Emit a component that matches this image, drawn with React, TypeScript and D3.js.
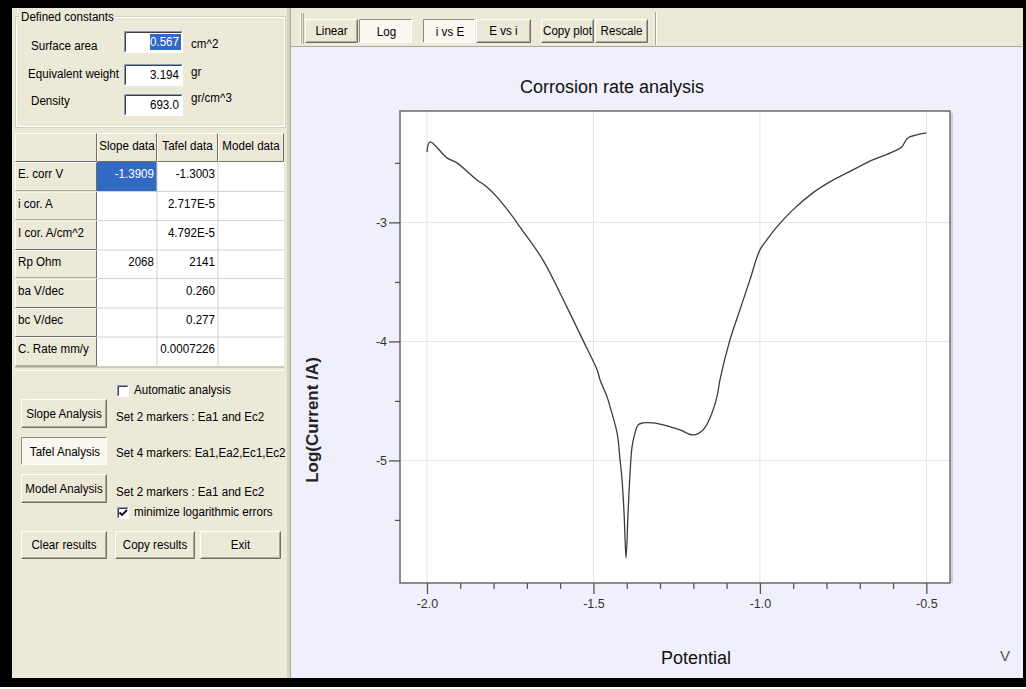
import { useEffect, useRef } from 'react'
import * as d3 from 'd3'

// polarisation curve
const potential = [-2.0, -1.991, -1.94, -1.91, -1.85, -1.82, -1.79, -1.742, -1.721, -1.652, -1.58, -1.532, -1.489, -1.48, -1.459, -1.45, -1.429, -1.42, -1.414, -1.408, -1.402, -1.396, -1.39, -1.384, -1.375, -1.366, -1.351, -1.321, -1.279, -1.24, -1.201, -1.171, -1.15, -1.129, -1.12, -1.09, -1.06, -1.03, -1.0, -0.979, -0.949, -0.901, -0.841, -0.79, -0.721, -0.661, -0.601, -0.574, -0.556, -0.529, -0.5]
const logCurrent = [-2.408, -2.324, -2.458, -2.5, -2.643, -2.702, -2.786, -2.954, -3.038, -3.315, -3.71, -3.987, -4.239, -4.324, -4.466, -4.55, -4.769, -4.996, -5.164, -5.441, -5.819, -5.441, -5.105, -4.886, -4.769, -4.701, -4.685, -4.685, -4.71, -4.744, -4.786, -4.744, -4.643, -4.466, -4.324, -3.987, -3.735, -3.483, -3.231, -3.147, -3.038, -2.895, -2.752, -2.66, -2.559, -2.475, -2.408, -2.366, -2.29, -2.265, -2.248]

const xMajorTicks = [-2.0, -1.5, -1.0, -0.5]
const xMinorTicks = [-1.9, -1.8, -1.7, -1.6, -1.4, -1.3, -1.2, -1.1, -0.9, -0.8, -0.7, -0.6]
const yMajorTicks = [-5, -4, -3]
const yMinorTicks = [-5.5, -4.5, -3.5, -2.5]

const constantLabels = ['Surface area', 'Equivalent weight', 'Density']
const constantValues = ['0.567', '3.194', '693.0']
const constantUnits = ['cm^2', 'gr', 'gr/cm^3']

const tableColumns = ['Slope data', 'Tafel data', 'Model data']
const rowLabels = ['E. corr V', 'i cor.  A', 'I cor. A/cm^2', 'Rp  Ohm', 'ba V/dec', 'bc V/dec', 'C. Rate mm/y']
const slopeData = ['-1.3909', '', '', '2068', '', '', '']
const tafelData = ['-1.3003', '2.717E-5', '4.792E-5', '2141', '0.260', '0.277', '0.0007226']
const modelData = ['', '', '', '', '', '', '']

const toolbarButtons = ['Linear', 'Log', 'i vs E', 'E vs i', 'Copy plot', 'Rescale']
const toolbarPressed = [false, true, true, false, false, false]

const BEIGE = '#ECE9D8'
const LAVENDER = '#F0F0FC'
const UI_FONT = 'Liberation Sans, Arial, sans-serif'

const plot = { left: 400, right: 950, top: 111, bottom: 583 }

function Txt({ x, y, children, anchor = 'start', size = 13.5, fill = '#000' }: any) {
  return (
    <text
      transform={`translate(${x},${y}) scale(0.86,1)`}
      textAnchor={anchor}
      dominantBaseline="central"
      fontSize={size}
      fontFamily={UI_FONT}
      fill={fill}
    >
      {children}
    </text>
  )
}

function Btn({ x, y, w, h, label, pressed = false }: any) {
  const r = x + w, b = y + h
  return (
    <g>
      <rect x={x} y={y} width={w} height={h} fill={pressed ? '#F8F7F0' : BEIGE} />
      <path d={`M${x + 0.5},${b - 0.5}V${y + 0.5}H${r - 0.5}`} stroke={pressed ? '#8E8B7E' : '#fff'} fill="none" />
      <path d={`M${x + 0.5},${b - 0.5}H${r - 0.5}V${y + 0.5}`} stroke={pressed ? '#fff' : '#716F64'} fill="none" />
      {!pressed && <path d={`M${x + 1.5},${b - 1.5}H${r - 1.5}V${y + 1.5}`} stroke="#ACA899" fill="none" />}
      <Txt x={x + w / 2 + (pressed ? 1 : 0)} y={y + h / 2 + (pressed ? 1 : 0)} anchor="middle">{label}</Txt>
    </g>
  )
}

function Sunken({ x, y, w, h, fill = '#fff' }: any) {
  return (
    <g>
      <rect x={x} y={y} width={w} height={h} fill={fill} />
      <path d={`M${x + 0.5},${y + h - 0.5}V${y + 0.5}H${x + w - 0.5}`} stroke="#7F9DB9" fill="none" />
      <path d={`M${x + 1.5},${y + h - 1.5}V${y + 1.5}H${x + w - 1.5}`} stroke="#404040" fill="none" />
      <path d={`M${x + 0.5},${y + h - 0.5}H${x + w - 0.5}V${y + 0.5}`} stroke="#fff" fill="none" />
    </g>
  )
}

function LeftPanel() {
  const colX = [15, 97, 157, 218, 284]
  const headTop = 133
  const rowTop = [162, 191.5, 220.5, 250, 278.5, 308, 337, 366.5]
  const cols = [slopeData, tafelData, modelData]
  const inputTop = [31, 64, 94]
  const labelY = [46, 74, 101]
  const unitY = [44, 72, 98]

  return (
    <g>
      <rect x={12} y={8} width={275} height={670} fill={BEIGE} />
      {/* group box */}
      <rect x={15.5} y={16.5} width={270} height={111} fill="none" stroke="#D0D0BF" />
      <rect x={16.5} y={17.5} width={268} height={109} fill="none" stroke="#fff" />
      <rect x={19} y={10} width={95} height={14} fill={BEIGE} />
      <Txt x={21} y={17}>Defined constants</Txt>
      {constantLabels.map((l, i) => (
        <g key={l}>
          <Txt x={i === 1 ? 28 : 31} y={labelY[i]}>{l}</Txt>
          <Sunken x={124} y={inputTop[i]} w={59} h={22} />
          {i === 0 && <rect x={150} y={inputTop[i] + 3} width={31} height={16} fill="#316AC5" />}
          <Txt x={179} y={inputTop[i] + 11} anchor="end" fill={i === 0 ? '#fff' : '#000'}>{constantValues[i]}</Txt>
          <Txt x={191} y={unitY[i]}>{constantUnits[i]}</Txt>
        </g>
      ))}

      {/* results grid */}
      <rect x={colX[1]} y={rowTop[0]} width={colX[4] - colX[1]} height={rowTop[7] - rowTop[0]} fill="#fff" />
      <rect x={colX[1]} y={rowTop[0]} width={colX[2] - colX[1]} height={rowTop[1] - rowTop[0]} fill="#316AC5" />
      {rowTop.slice(1, 7).map((t, i) => (
        <line key={i} x1={colX[1]} x2={colX[4]} y1={t} y2={t} stroke="#D4D0C8" />
      ))}
      {colX.slice(2, 4).map((c, i) => (
        <line key={i} x1={c} x2={c} y1={rowTop[0]} y2={rowTop[7]} stroke="#D4D0C8" />
      ))}
      {/* header cells */}
      {[0, 1, 2, 3].map(c => (
        <g key={c}>
          <rect x={colX[c]} y={headTop} width={colX[c + 1] - colX[c]} height={rowTop[0] - headTop} fill={BEIGE} />
          <path d={`M${colX[c] + 0.5},${rowTop[0] - 0.5}V${headTop + 0.5}H${colX[c + 1] - 0.5}`} stroke="#fff" fill="none" />
          <path d={`M${colX[c] + 0.5},${rowTop[0] - 0.5}H${colX[c + 1] - 0.5}V${headTop + 0.5}`} stroke="#716F64" fill="none" />
          {c > 0 && <Txt x={(colX[c] + colX[c + 1]) / 2} y={headTop + 13} anchor="middle">{tableColumns[c - 1]}</Txt>}
        </g>
      ))}
      {rowLabels.map((l, i) => (
        <g key={l}>
          <rect x={colX[0]} y={rowTop[i]} width={colX[1] - colX[0]} height={rowTop[i + 1] - rowTop[i]} fill={BEIGE} />
          <path d={`M${colX[0] + 0.5},${rowTop[i + 1] - 0.5}V${rowTop[i] + 0.5}H${colX[1] - 0.5}`} stroke="#fff" fill="none" />
          <path d={`M${colX[0] + 0.5},${rowTop[i + 1] - 0.5}H${colX[1] - 0.5}V${rowTop[i] + 0.5}`} stroke="#716F64" fill="none" />
          <Txt x={18} y={rowTop[i] + 12}>{l}</Txt>
          {cols.map((col, c) => (
            <Txt key={c} x={colX[c + 2] - 3} y={rowTop[i] + 12} anchor="end" fill={i === 0 && c === 0 ? '#fff' : '#000'}>
              {col[i]}
            </Txt>
          ))}
        </g>
      ))}
      <line x1={colX[0]} x2={colX[4]} y1={rowTop[7] + 0.5} y2={rowTop[7] + 0.5} stroke="#ACA899" />
      <line x1={colX[0]} x2={colX[4]} y1={370.5} y2={370.5} stroke="#fff" />

      {/* analysis controls */}
      <Sunken x={117} y={385} w={12} h={12} />
      <Txt x={134} y={390}>Automatic analysis</Txt>
      <Btn x={21} y={399} w={86} h={29} label="Slope Analysis" />
      <Txt x={116} y={417}>Set 2 markers : Ea1 and Ec2</Txt>
      <Btn x={21} y={437} w={86} h={28} label="Tafel Analysis" pressed />
      <Txt x={116} y={453}>Set 4 markers: Ea1,Ea2,Ec1,Ec2</Txt>
      <Btn x={21} y={474} w={86} h={29} label="Model Analysis" />
      <Txt x={116} y={492}>Set 2 markers : Ea1 and Ec2</Txt>
      <Sunken x={117} y={507} w={12} h={12} />
      <path d="M119.5,512.5l2.5,2.5l5,-5" stroke="#000" strokeWidth={1.8} fill="none" />
      <Txt x={134} y={512}>minimize logarithmic errors</Txt>
      <Btn x={21} y={531} w={86} h={28} label="Clear results" />
      <Btn x={115} y={531} w={80} h={28} label="Copy results" />
      <Btn x={200} y={531} w={81} h={28} label="Exit" />
    </g>
  )
}

function Toolbar() {
  const bx = [305, 359, 423, 476, 541, 595]
  const bw = [53, 53, 52, 55, 53, 53]
  return (
    <g>
      <rect x={291} y={8} width={732} height={39} fill={BEIGE} />
      <line x1={291} x2={1023} y1={46.5} y2={46.5} stroke="#ACA899" />
      <line x1={300.5} x2={300.5} y1={13} y2={44} stroke="#fff" />
      <line x1={301.5} x2={301.5} y1={13} y2={44} stroke="#ACA899" />
      <line x1={303.5} x2={303.5} y1={13} y2={44} stroke="#ACA899" />
      <line x1={655.5} x2={655.5} y1={12} y2={45} stroke="#ACA899" />
      <line x1={656.5} x2={656.5} y1={12} y2={45} stroke="#fff" />
      {toolbarButtons.map((l, i) => (
        <Btn key={l} x={bx[i]} y={19} w={bw[i]} h={24} label={l} pressed={toolbarPressed[i]} />
      ))}
    </g>
  )
}

export default function App() {
  const axRef = useRef<SVGGElement | null>(null)

  const x = d3.scaleLinear().domain([-2.081, -0.429]).range([plot.left, plot.right])
  const y = d3.scaleLinear().domain([-6.03, -2.064]).range([plot.bottom, plot.top])

  const points = potential.map((p, i) => [p, logCurrent[i]] as [number, number])
  const line = d3.line<[number, number]>()
    .x(d => x(d[0]))
    .y(d => y(d[1]))
    .curve(d3.curveCatmullRom.alpha(0.5))

  useEffect(() => {
    if (!axRef.current) return
    const g = d3.select(axRef.current)
    g.selectAll('*').remove()

    const styleAxis = (sel: any) => {
      sel.select('.domain').remove()
      sel.selectAll('line').attr('stroke', '#555').attr('stroke-width', 1.3)
      sel.selectAll('text')
        .attr('fill', '#333')
        .style('font-size', '12.5px')
        .style('font-family', 'Liberation Sans, Arial, sans-serif')
    }

    g.append('g')
      .attr('transform', `translate(0,${plot.bottom})`)
      .call(d3.axisBottom(x).tickValues(xMinorTicks).tickSize(6).tickFormat(() => ''))
      .call(styleAxis)
    g.append('g')
      .attr('transform', `translate(0,${plot.bottom})`)
      .call(d3.axisBottom(x).tickValues(xMajorTicks).tickSize(11).tickPadding(5).tickFormat((d: any) => d.toFixed(1)))
      .call(styleAxis)

    g.append('g')
      .attr('transform', `translate(${plot.left},0)`)
      .call(d3.axisLeft(y).tickValues(yMinorTicks).tickSize(5).tickFormat(() => ''))
      .call(styleAxis)
    g.append('g')
      .attr('transform', `translate(${plot.left},0)`)
      .call(d3.axisLeft(y).tickValues(yMajorTicks).tickSize(11).tickPadding(2).tickFormat((d: any) => String(d)))
      .call(styleAxis)
  }, [])

  return (
    <div style={{ position: 'absolute', left: 0, top: 0, width: 1026, height: 689, background: '#fff' }}>
      <svg width={1026} height={689} style={{ display: 'block' }}>
        <rect x={0} y={0} width={1026} height={687} fill="#000" />
        <LeftPanel />
        <rect x={287} y={8} width={4} height={670} fill="#D6D2C2" />
        <line x1={290.5} x2={290.5} y1={8} y2={678} stroke="#ACA899" />
        <rect x={291} y={47} width={732} height={631} fill={LAVENDER} />
        <Toolbar />

        {/* chart */}
        <text x={612} y={87} textAnchor="middle" dominantBaseline="central" fontSize={18} fontFamily={UI_FONT} fill="#111">
          Corrosion rate analysis
        </text>
        <rect x={plot.left} y={plot.top} width={plot.right - plot.left} height={plot.bottom - plot.top} fill="#fff" />
        {xMajorTicks.map(t => (
          <line key={t} x1={x(t)} x2={x(t)} y1={plot.top} y2={plot.bottom} stroke="#E4E4E4" />
        ))}
        {yMajorTicks.map(t => (
          <line key={t} x1={plot.left} x2={plot.right} y1={y(t)} y2={y(t)} stroke="#E4E4E4" />
        ))}
        <line x1={plot.right + 2} x2={plot.right + 2} y1={plot.top + 2} y2={plot.bottom} stroke="#B8B8C4" strokeWidth={1.2} />
        <rect x={plot.left} y={plot.top} width={plot.right - plot.left} height={plot.bottom - plot.top} fill="none" stroke="#6A6A6A" strokeWidth={1.5} />
        <path d={line(points) ?? ''} fill="none" stroke="#3C3C3C" strokeWidth={1.3} strokeLinejoin="round" />
        <g ref={axRef} />

        <text
          transform="translate(312,420) rotate(-90)"
          textAnchor="middle"
          dominantBaseline="central"
          fontSize={17}
          fontWeight="bold"
          fontFamily={UI_FONT}
          fill="#222"
        >
          Log(Current /A)
        </text>
        <text x={696} y={658} textAnchor="middle" dominantBaseline="central" fontSize={18} fontFamily={UI_FONT} fill="#111">
          Potential
        </text>
        <text x={1005} y={655} textAnchor="middle" dominantBaseline="central" fontSize={15} fontFamily={UI_FONT} fill="#555">
          V
        </text>
      </svg>
    </div>
  )
}
